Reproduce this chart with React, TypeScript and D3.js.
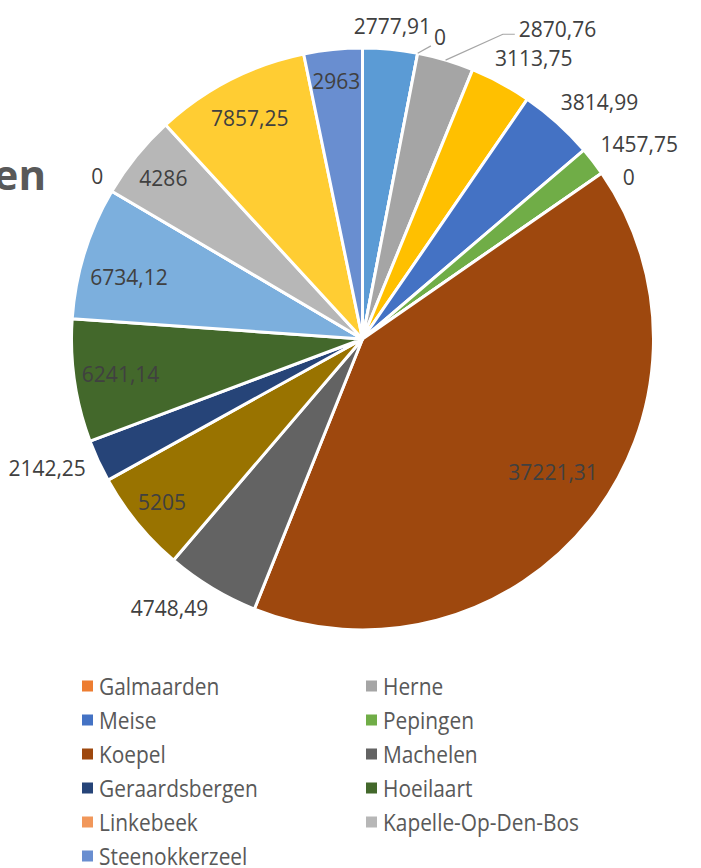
import React from "react";
import * as d3 from "d3";

// Slice values in clockwise order from 12 o'clock
const sliceValues = [2777.91, 0, 2870.76, 3113.75, 3814.99, 1457.75, 0, 37221.31, 4748.49, 5205, 2142.25, 6241.14, 6734.12, 0, 4286, 7857.25, 2963];
const sliceLabels = ["2777,91", "0", "2870,76", "3113,75", "3814,99", "1457,75", "0", "37221,31", "4748,49", "5205", "2142,25", "6241,14", "6734,12", "0", "4286", "7857,25", "2963"];
const sliceColors = ["#5B9BD5", "#ED7D31", "#A5A5A5", "#FFC000", "#4472C4", "#70AD47", "#255E91", "#9E480E", "#636363", "#997300", "#264478", "#43682B", "#7CAFDD", "#F1975A", "#B7B7B7", "#FFCD33", "#698ED0"];

// Legend (as shown)
const legendNames = ["Galmaarden", "Herne", "Meise", "Pepingen", "Koepel", "Machelen", "Geraardsbergen", "Hoeilaart", "Linkebeek", "Kapelle-Op-Den-Bos", "Steenokkerzeel"];
const legendColors = ["#ED7D31", "#A5A5A5", "#4472C4", "#70AD47", "#9E480E", "#636363", "#264478", "#43682B", "#F1975A", "#B7B7B7", "#698ED0"];

const titleFragment = "en";

// label placement style: in (ratio of radius) / out (edge) / callout
type Place = { mode: "in" | "out" | "callout"; k?: number; da?: number; dist?: number; leader?: boolean };
const placements: Place[] = [
  { mode: "out" },
  { mode: "out", da: 3.5, leader: true },
  { mode: "callout", da: 15.6, dist: 366 },
  { mode: "out", da: 3 },
  { mode: "out", da: 3 },
  { mode: "out", da: 2.5 },
  { mode: "out", da: 3.5 },
  { mode: "in", k: 0.8, da: -3.5 },
  { mode: "out", da: 4.5 },
  { mode: "in", k: 0.89 },
  { mode: "out", da: 2.5 },
  { mode: "in", k: 0.84 },
  { mode: "in", k: 0.83, da: -2.5 },
  { mode: "out", da: 1 },
  { mode: "in", k: 0.88 },
  { mode: "in", k: 0.85 },
  { mode: "in", k: 0.89 },
];

const W = 701;
const H = 868;
const cx = 362.5;
const cy = 339;
const R = 291;
const labelFont = 21;
const FONT = "'Open Sans', 'Noto Sans', sans-serif";

function approxWidth(s: string, fs: number) {
  let w = 0;
  for (const ch of s) w += ch === "," ? 0.25 : 0.572;
  return w * fs;
}

export default function App() {
  const pie = d3.pie<number>().sort(null).value((d) => d)(sliceValues);
  const arc = d3.arc<d3.PieArcDatum<number>>().innerRadius(0).outerRadius(R);

  const toXY = (angDeg: number, dist: number) => {
    const a = (angDeg * Math.PI) / 180;
    return [cx + Math.sin(a) * dist, cy - Math.cos(a) * dist];
  };

  const labels = pie.map((p, i) => {
    const pl = placements[i];
    const mid = ((p.startAngle + p.endAngle) / 2) * 180 / Math.PI;
    const ang = mid + (pl.da || 0);
    const text = sliceLabels[i];
    const w = approxWidth(text, labelFont);
    const h = 16;
    let x = 0, y = 0;
    let leader: string | null = null;
    if (pl.mode === "in") {
      [x, y] = toXY(ang, R * (pl.k || 0.8));
    } else if (pl.mode === "out") {
      const a = (ang * Math.PI) / 180;
      const d = R + 11 + Math.abs(Math.sin(a)) * w / 2 + Math.abs(Math.cos(a)) * h / 2;
      [x, y] = toXY(ang, d);
      if (pl.leader) {
        const [sx, sy] = toXY(mid, R);
        const [ex, ey] = toXY(mid + 2.2, R + 10);
        leader = `M${sx},${sy}L${ex},${ey}`;
      }
    } else {
      [x, y] = toXY(ang, pl.dist || R + 60);
      const [sx, sy] = toXY(mid, R);
      const lx = x - w / 2 - 4;
      const ly = y + 5;
      leader = `M${sx},${sy}L${lx - 12},${ly}L${lx},${ly}`;
    }
    return { x, y, text, leader, key: i };
  });

  const legX = [82, 366];
  const legY0 = 686;
  const legDy = 34;

  return (
    <svg width={W} height={H} style={{ position: "absolute", left: 0, top: 0, background: "#fff" }} fontFamily={FONT}>
      <rect x={0} y={0} width={W} height={H} fill="#fff" />
      <text x={46} y={190} textAnchor="end" fontSize={42} fontWeight={700} fill="#595959">
        {titleFragment}
      </text>
      <g transform={`translate(${cx},${cy})`}>
        {pie.map((p, i) => (
          <path key={i} d={arc(p) || ""} fill={sliceColors[i]} stroke="#fff" strokeWidth={3} strokeLinejoin="round" />
        ))}
      </g>
      <g>
        {labels.map((l) =>
          l.leader ? <path key={"l" + l.key} d={l.leader} fill="none" stroke="#A6A6A6" strokeWidth={1.2} /> : null
        )}
        {labels.map((l) => (
          <text key={l.key} x={l.x} y={l.y} dy="0.36em" textAnchor="middle" fontSize={labelFont} fill="#404040">
            {l.text}
          </text>
        ))}
      </g>
      <g>
        {legendNames.map((n, i) => {
          const col = i % 2;
          const row = Math.floor(i / 2);
          const y = legY0 + row * legDy;
          return (
            <g key={n}>
              <rect x={legX[col]} y={y - 5.5} width={11} height={11} fill={legendColors[i]} />
              <text transform={`translate(${legX[col] + 17},${y}) scale(0.87,1)`} dy="0.36em" fontSize={24} fill="#595959">
                {n}
              </text>
            </g>
          );
        })}
      </g>
    </svg>
  );
}
